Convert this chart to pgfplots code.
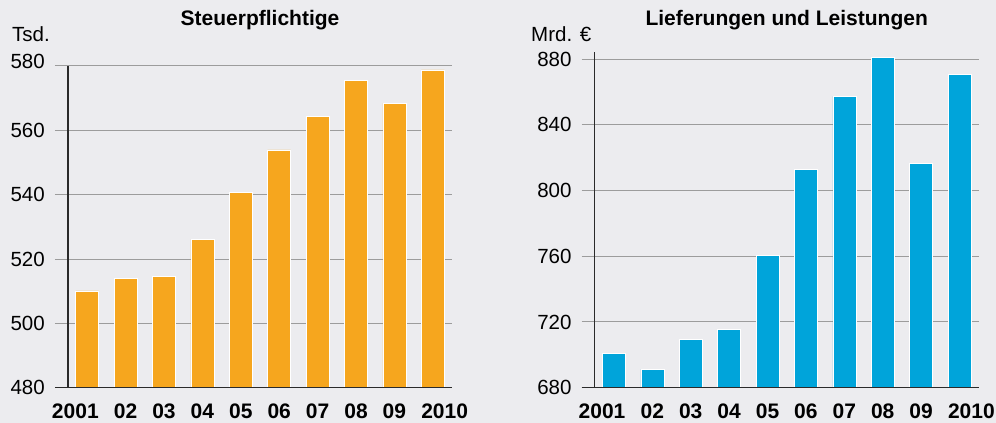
\documentclass[border=0pt]{standalone}
\usepackage{fontspec}
\setmainfont{Liberation Sans}
\usepackage{xcolor}
\usepackage{pgfplots}
\pgfplotsset{compat=1.18}
\definecolor{bg}{HTML}{ECECEF}
\definecolor{orangebar}{HTML}{F6A61E}
\definecolor{bluebar}{HTML}{00A4DA}
\definecolor{gridgray}{HTML}{9C9C9C}
\definecolor{axisdark}{HTML}{2A2A2A}
\pagecolor{bg}
\pgfplotsset{
  panel/.style={
    scale only axis, width=384pt, anchor=south west,
    ybar, bar width=23pt, bar shift=0pt,
    xmin=-0.5, xmax=9.5,
    xtick={0,...,9},
    xticklabels={\makebox[23pt][r]{2001},02,03,04,05,06,07,08,09,\makebox[23pt][l]{2010}},
    xtick style={draw=none},
    axis x line*=bottom, axis y line*=left,
    axis line style={axisdark, line width=1.3pt},
    ymajorgrids, grid style={gridgray, line width=1pt},
    ytick style={gridgray, line width=1pt},
    tick align=outside, major tick length=13pt,
    /pgf/number format/assume math mode=true,
    /pgf/number format/1000 sep={},
    yticklabel style={font=\fontsize{20.5}{24}\selectfont, anchor=east, inner sep=0pt, xshift=-10pt},
    xticklabel style={font=\fontsize{21}{24}\selectfont\bfseries, anchor=base, inner sep=0pt, yshift=-18pt},
    extra y tick style={grid=none, tick style={axisdark, line width=1.3pt}},
  }
}
\begin{document}
\begin{tikzpicture}
\path[use as bounding box] (0pt,0pt) rectangle (996pt,423pt);
\begin{axis}[panel, name=L, at={(68pt,35.3pt)}, height=321.7pt,
  ymin=480, ymax=580, ytick={500,520,540,560,580},
  yticklabels={500,520,540,560,\raisebox{10pt}{580}}, extra y ticks={480}, extra y tick labels={480}]
\addplot[fill=orangebar, draw=white, line width=0.6pt] coordinates {
(0,510.1) (1,514.0) (2,514.6) (3,526.0) (4,540.7) (5,553.9) (6,564.4) (7,575.4) (8,568.4) (9,578.8)};
\end{axis}
\begin{axis}[panel, name=R, at={(594.7pt,35.3pt)}, height=335.2pt,
  ymin=680, ymax=884, ytick={720,760,800,840,880}, extra y ticks={680}]
\addplot[fill=bluebar, draw=white, line width=0.6pt] coordinates {
(0,700.9) (1,691.2) (2,709.4) (3,715.7) (4,760.5) (5,812.7) (6,857.3) (7,881.2) (8,816.7) (9,870.9)};
\end{axis}
\draw[axisdark, line width=1.3pt] ([xshift=-13pt]L.south west) -- (L.south east);
\draw[axisdark, line width=1.3pt] ([xshift=-13pt]R.south west) -- (R.south east);
\node[anchor=base west, font=\fontsize{20.5}{24}\selectfont, inner sep=0pt] at (12pt,381.3pt) {Tsd.};
\node[anchor=base west, font=\fontsize{20.5}{24}\selectfont, inner sep=0pt] at (531pt,381.3pt) {Mrd. €};
\node[anchor=base, font=\fontsize{21}{24}\selectfont\bfseries, inner sep=0pt] at (260pt,397pt) {Steuerpflichtige};
\node[anchor=base, font=\fontsize{21}{24}\selectfont\bfseries, inner sep=0pt] at (786.7pt,397pt) {Lieferungen und Leistungen};
\end{tikzpicture}
\end{document}
